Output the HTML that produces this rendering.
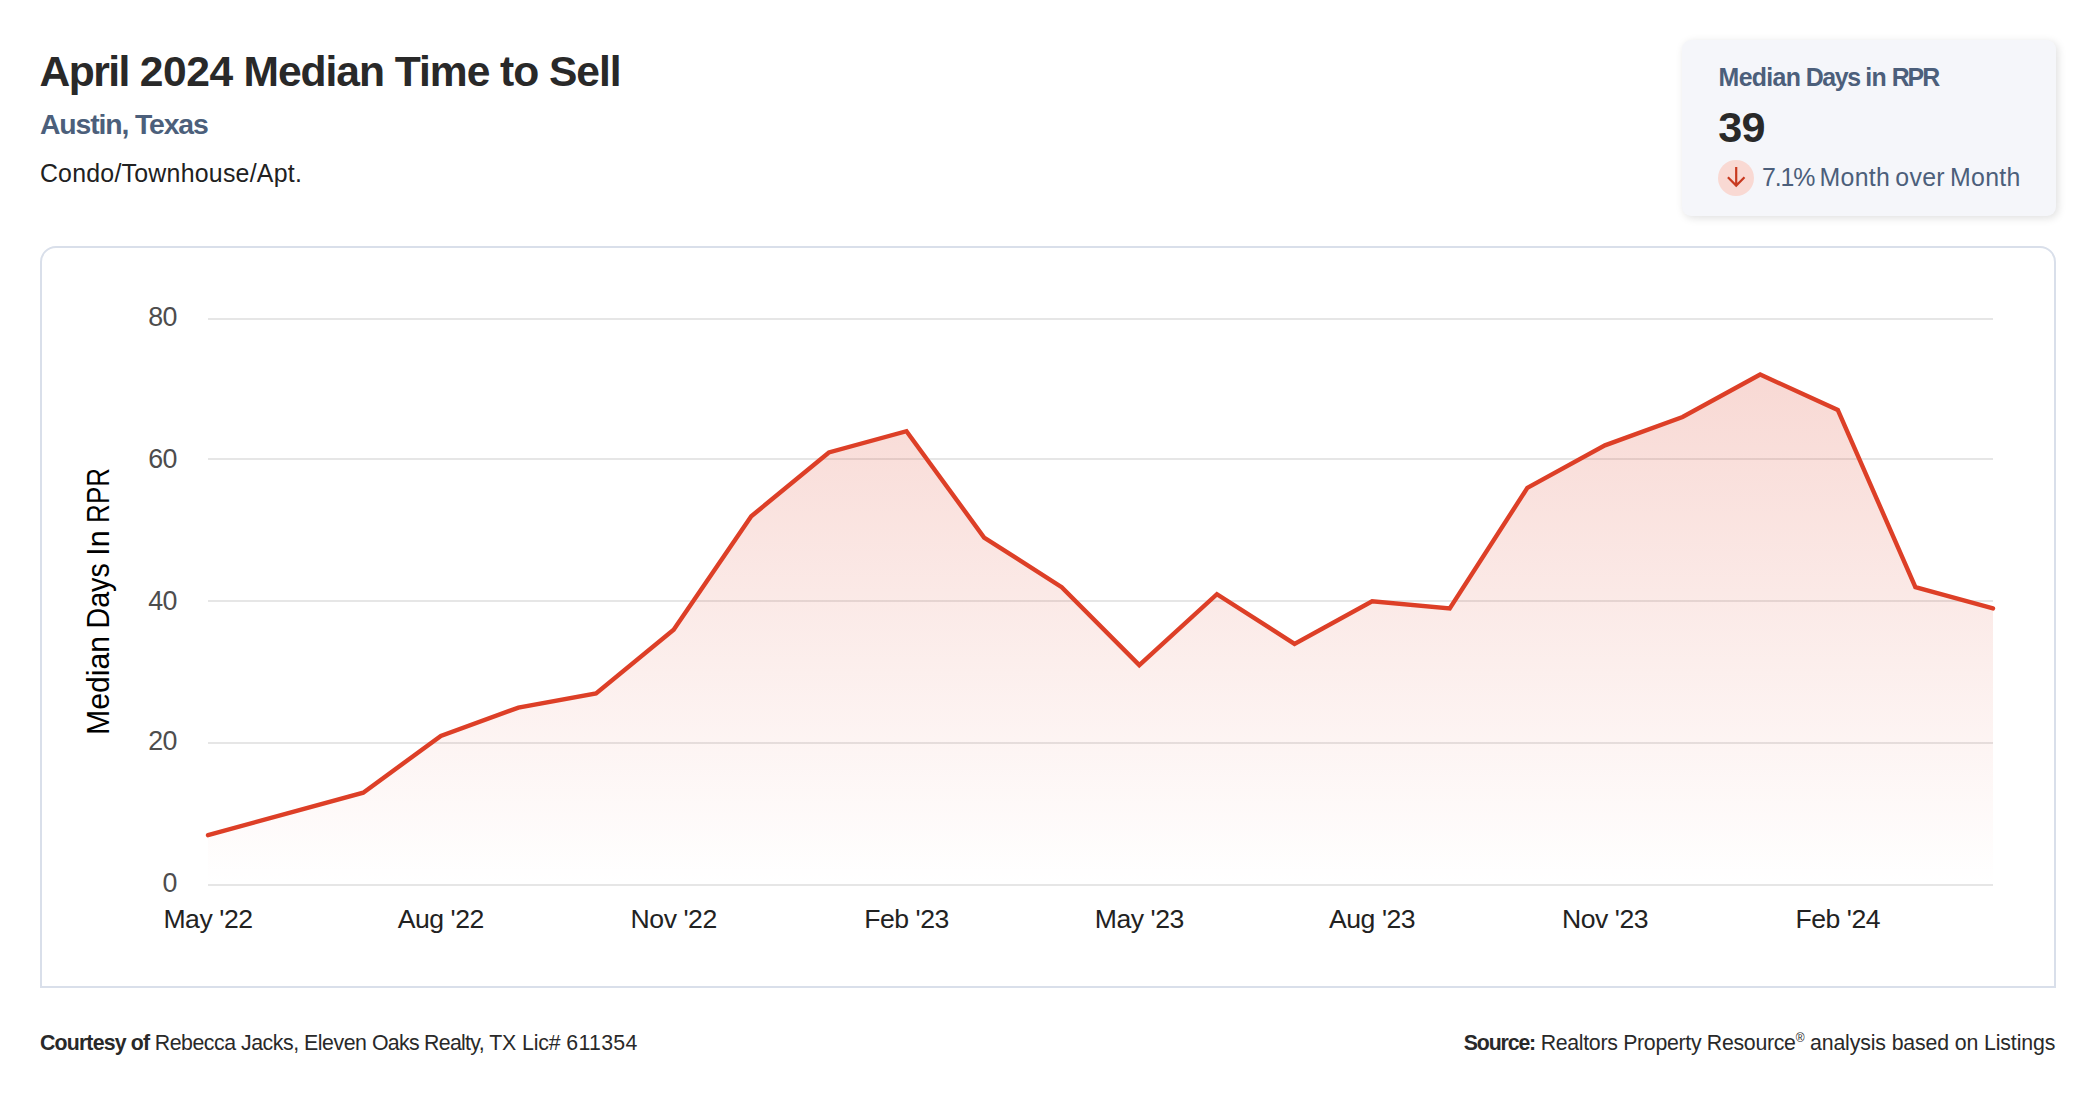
<!DOCTYPE html>
<html lang="en">
<head>
<meta charset="utf-8">
<title>April 2024 Median Time to Sell - Austin, Texas</title>
<style>
  html, body { margin: 0; padding: 0; }
  body {
    width: 2096px; height: 1100px; position: relative; overflow: hidden;
    background: #ffffff; color: #222222;
    font-family: "Liberation Sans", sans-serif;
  }
  .t { position: absolute; white-space: nowrap; line-height: 1; margin: 0; }
  .title { left: 39.4px; top: 49.93px; font-size: 42.6px; font-weight: 700; color: #292929; letter-spacing: -1.04px; }
  .title .w1 { letter-spacing: -1.5px; }
  .title .w2 { letter-spacing: -0.44px; }
  .sub { left: 40px; top: 109.95px; font-size: 28.4px; font-weight: 700; color: #4c5f7b; letter-spacing: -1.14px; }
  .ptype { left: 39.9px; top: 160.72px; font-size: 24.9px; color: #212121; letter-spacing: 0.24px; }

  .stat {
    position: absolute; left: 1682px; top: 40px; width: 374px; height: 176px;
    background: #f5f6fa; border-radius: 9px;
    box-shadow: 2px 2px 8px rgba(0, 0, 0, 0.13);
  }
  .stat .lbl { left: 36.6px; top: 24.92px; font-size: 24.9px; font-weight: 700; color: #4c5f7b; letter-spacing: -0.7px; word-spacing: -0.6px; }
  .stat .lbl .w2 { letter-spacing: -1.4px; }
  .stat .lbl .w4 { letter-spacing: -2.0px; }
  .stat .val { left: 36.2px; letter-spacing: -0.8px; top: 65.8px; font-size: 43.2px; font-weight: 700; color: #292929; }
  .stat .dot { position: absolute; left: 36px; top: 120px; width: 36px; height: 36px; border-radius: 50%; background: #f9d9d3; }
  .stat .dot svg { position: absolute; left: 0; top: 0; }
  .stat .mom { left: 80px; top: 124.72px; font-size: 24.9px; color: #4c5f7b; letter-spacing: 0.3px; word-spacing: -2.1px; }
  .stat .mom .p { letter-spacing: -1.1px; }

  .chart {
    position: absolute; left: 40px; top: 246px; width: 2012px; height: 738px;
    border: 2px solid #d9dfea; border-radius: 16px 16px 0 0; background: #fff;
  }
  .chart svg { position: absolute; left: -2px; top: -2px; }

  .foot { top: 1032.9px; font-size: 21.3px; color: #292929; }
  .foot b { font-weight: 700; letter-spacing: -0.83px; }
  .foot.l { left: 40px; letter-spacing: -0.41px; }
  .foot.l .a { letter-spacing: -0.46px; }
  .foot.l .b { letter-spacing: -0.69px; }
  .foot.l .c { letter-spacing: -0.12px; }
  .foot.l .d { letter-spacing: 0.29px; }
  .foot.r { right: 40.8px; letter-spacing: -0.30px; }
  .foot.r b { letter-spacing: -1.15px; }
  .foot.r .c { letter-spacing: -0.13px; }
  .foot sup { font-size: 12px; line-height: 0; vertical-align: 8px; }
</style>
</head>
<body>

<h1 class="t title"><span class="w1">April</span> <span class="w2">2024</span> Median Time to Sell</h1>
<div class="t sub">Austin, Texas</div>
<div class="t ptype">Condo/Townhouse/Apt.</div>

<div class="stat">
  <div class="t lbl">Median <span class="w2">Days</span> in <span class="w4">RPR</span></div>
  <div class="t val">39</div>
  <div class="dot">
    <svg width="36" height="36" viewBox="0 0 36 36" fill="none" stroke="#c8391f" stroke-width="2.2" stroke-linecap="butt" stroke-linejoin="miter">
      <path d="M18.2 6.9 V25.6 M9.9 17.3 L18.2 25.6 L26.5 17.3"/>
    </svg>
  </div>
  <div class="t mom"><span class="p">7.1%</span> Month over Month</div>
</div>

<div class="chart">
  <svg width="2016" height="742" viewBox="40 246 2016 742">
    <defs>
      <linearGradient id="g" x1="0" y1="0" x2="0" y2="1">
        <stop offset="0" stop-color="#dc3f27" stop-opacity="0.2"/>
        <stop offset="1" stop-color="#dc3f27" stop-opacity="0"/>
      </linearGradient>
    </defs>
    <!-- CB0 -->
    <rect x="208" y="318" width="1785" height="2" fill="#e6e6e6"/>
    <rect x="208" y="458" width="1785" height="2" fill="#e6e6e6"/>
    <rect x="208" y="600" width="1785" height="2" fill="#e6e6e6"/>
    <rect x="208" y="742" width="1785" height="2" fill="#e6e6e6"/>
    <rect x="208" y="884" width="1785" height="2" fill="#e6e6e6"/>
    <path d="M208.00 835.19 L285.61 813.92 L363.22 792.66 L440.83 735.96 L518.43 707.61 L596.04 693.44 L673.65 629.65 L751.26 516.25 L828.87 452.46 L906.48 431.20 L984.09 537.51 L1061.70 587.12 L1139.30 665.09 L1216.91 594.21 L1294.52 643.82 L1372.13 601.30 L1449.74 608.39 L1527.35 487.90 L1604.96 445.37 L1682.57 417.02 L1760.17 374.50 L1837.78 409.94 L1915.39 587.12 L1993.00 608.39 L1993.00 884.80 L208.00 884.80 Z" fill="url(#g)" stroke="none"/>
    <path d="M208.00 835.19 L285.61 813.92 L363.22 792.66 L440.83 735.96 L518.43 707.61 L596.04 693.44 L673.65 629.65 L751.26 516.25 L828.87 452.46 L906.48 431.20 L984.09 537.51 L1061.70 587.12 L1139.30 665.09 L1216.91 594.21 L1294.52 643.82 L1372.13 601.30 L1449.74 608.39 L1527.35 487.90 L1604.96 445.37 L1682.57 417.02 L1760.17 374.50 L1837.78 409.94 L1915.39 587.12 L1993.00 608.39" fill="none" stroke="#dd3f27" stroke-width="4.4" stroke-linejoin="miter" stroke-linecap="round"/>
    <g font-family="'Liberation Sans', sans-serif" font-size="26.8" fill="#4d4d4d" text-anchor="end" letter-spacing="-0.7">
    <text x="176.7" y="325.7">80</text>
    <text x="176.7" y="467.7">60</text>
    <text x="176.7" y="609.7">40</text>
    <text x="176.7" y="749.7">20</text>
    <text x="176.7" y="891.7">0</text>
    </g>
    <g font-family="'Liberation Sans', sans-serif" font-size="26.6" fill="#222222" text-anchor="middle" letter-spacing="-0.45">
    <text x="208.0" y="928">May '22</text>
    <text x="440.8" y="928">Aug '22</text>
    <text x="673.7" y="928">Nov '22</text>
    <text x="906.5" y="928">Feb '23</text>
    <text x="1139.3" y="928">May '23</text>
    <text x="1372.1" y="928">Aug '23</text>
    <text x="1605.0" y="928">Nov '23</text>
    <text x="1837.8" y="928">Feb '24</text>
    </g>
    <text transform="translate(109.3 0) rotate(-90)" y="0" font-family="'Liberation Sans', sans-serif" font-size="31.2" fill="#000000"><tspan x="-735.0" textLength="99.0" lengthAdjust="spacingAndGlyphs">Median</tspan> <tspan x="-628.6" textLength="65.4" lengthAdjust="spacingAndGlyphs">Days</tspan> <tspan x="-555.8" textLength="25.3" lengthAdjust="spacingAndGlyphs">In</tspan> <tspan x="-522.9" textLength="54.9" lengthAdjust="spacingAndGlyphs">RPR</tspan></text>
    <!-- CB1 -->
  </svg>
</div>

<div class="t foot l"><b>Courtesy of</b> <span class="a">Rebecca Jacks, Eleven </span><span class="b">Oaks Realty, </span><span class="c">TX Lic# </span><span class="d">611354</span></div>
<div class="t foot r"><b>Source:</b> Realtors Property Resource<sup>®</sup><span class="c"> analysis based on Listings</span></div>

</body>
</html>
